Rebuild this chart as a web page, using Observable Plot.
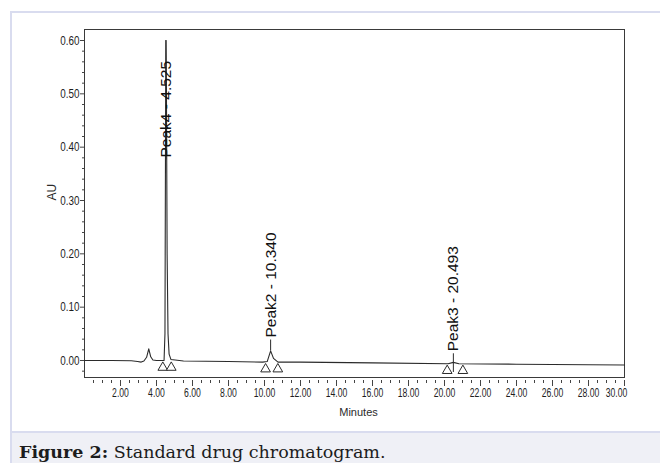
<!DOCTYPE html>
<html>
<head>
<meta charset="utf-8">
<script src="https://cdn.jsdelivr.net/npm/d3@7"></script>
<script src="https://cdn.jsdelivr.net/npm/@observablehq/plot@0.6"></script>
<style>
  html, body { margin: 0; padding: 0; background: #fff; width: 660px; height: 463px; overflow: hidden; }
  body { position: relative; }
  #box { position: absolute; left: 10px; top: 11px; width: 660px; height: 460px;
         border-left: 2px solid #d9dcef; border-top: 2px solid #d9dcef; }
  #chart { position: absolute; left: 0; top: 0; }
  #chart svg { background: transparent; }
  #caption { position: absolute; left: 12px; top: 431px; right: 0; height: 32px;
             background: #eff0f6; border-top: 2px solid #d9dcef; box-sizing: border-box;
             font-family: "DejaVu Serif", "Liberation Serif", serif; font-size: 17.5px;
             line-height: 20px; padding: 9px 0 0 7px; color: #1c1c1c; white-space: nowrap; }
  #caption b { font-weight: bold; }
</style>
</head>
<body>
<div id="box"></div>
<div id="chart"></div>
<div id="caption"><b>Figure 2:</b> Standard drug chromatogram.</div>
<script>
// --- Chromatogram trace (minutes, AU) ---
const traceTime = [0, 1.5, 2.6, 2.95, 3.15, 3.3, 3.45, 3.57, 3.68, 3.8, 4.0, 4.42, 4.47, 4.50, 4.525, 4.55, 4.59, 4.64, 4.70, 4.80, 5.5, 8.0, 9.9, 10.15, 10.34, 10.5, 10.75, 12.0, 16.0, 20.2, 20.493, 20.8, 24.0, 28.0, 30.0];
const traceAU   = [0, 0, -0.0005, -0.002, -0.003, -0.001, 0.006, 0.022, 0.007, 0.001, 0, 0, 0.05, 0.40, 0.600, 0.52, 0.20, 0.05, 0.012, 0.002, -0.001, -0.002, -0.003, -0.002, 0.018, 0.004, -0.003, -0.003, -0.0045, -0.006, -0.0035, -0.006, -0.007, -0.008, -0.0085];

// --- Named peaks ---
const peakNames   = ["Peak4 - 4.525", "Peak2 - 10.340", "Peak3 - 20.493"];
const peakTimes   = [4.525, 10.340, 20.493];
const leaderLowAU = [0.600, 0.018, -0.0225];
const labelBaseAU = [0.376, 0.0384, 0.0126];

// --- Integration markers (open triangles under the baseline) ---
const markerTimes = [4.35, 4.82, 10.06, 10.74, 20.15, 21.02];
const markerAU    = [0, 0, -0.003, -0.003, -0.006, -0.006];

// --- Axis ticks and titles ---
const yMajorTicks = [0.00, 0.10, 0.20, 0.30, 0.40, 0.50, 0.60];
const xMajorTicks = [2, 4, 6, 8, 10, 12, 14, 16, 18, 20, 22, 24, 26, 28];
const xLastTick   = [30];
const yMinorTicks = d3.range(-2, 60, 2).filter(v => v % 10 !== 0).map(v => v / 100);
const xMinorTicks = d3.range(1, 61).map(v => v / 2).filter(v => v % 2 !== 0);
const yTitle = "AU";
const xTitle = "Minutes";

const trace = traceTime.map((t, i) => ({t, au: traceAU[i]}));
const peaks = peakNames.map((name, i) => ({name, t: peakTimes[i], lo: leaderLowAU[i], hi: labelBaseAU[i]}));
const markers = markerTimes.map((t, i) => ({t, au: markerAU[i]}));

const ink = "#2b2b2b";
const sans = "'Liberation Sans', Arial, sans-serif";
const fmt = d => d.toFixed(2);

const chart = Plot.plot({
  width: 660,
  height: 431,
  marginLeft: 84,
  marginRight: 36,
  marginTop: 29,
  marginBottom: 54,
  style: {background: "transparent", color: ink, fontFamily: sans},
  x: {domain: [0, 30], label: null},
  y: {domain: [-0.03188, 0.62063], label: null},
  marks: [
    Plot.frame({stroke: "#3a3a3a", strokeWidth: 1}),
    // y axis
    Plot.axisY(yMinorTicks, {tickSize: 2, tickFormat: () => "", stroke: "#444", label: null}),
    Plot.axisY(yMajorTicks, {tickSize: 4, tickPadding: 1, tickFormat: fmt, fontSize: 13, stroke: "#444", fill: "#1e1e1e", label: null}),
    Plot.text([yTitle], {frameAnchor: "left", text: d => d, rotate: -90, dx: -32, dy: -3, fontSize: 12, fill: ink}),
    // x axis
    Plot.axisX(xMinorTicks, {tickSize: 3, dy: 3, tickFormat: () => "", stroke: "#444", label: null}),
    Plot.axisX(xMajorTicks, {tickSize: 6, dy: 3, tickPadding: 2, tickFormat: fmt, fontSize: 12, stroke: "#444", fill: "#1e1e1e", label: null}),
    Plot.axisX(xLastTick, {tickSize: 6, dy: 3, tickPadding: 2, tickFormat: fmt, fontSize: 12, stroke: "#444", fill: "#1e1e1e", label: null}),
    Plot.text([xTitle], {frameAnchor: "bottom", text: d => d, dx: 4, dy: 38, fontSize: 11, fill: ink}),
    // trace
    Plot.line(trace, {x: "t", y: "au", stroke: ink, strokeWidth: 1.1}),
    // peak leaders and labels
    Plot.ruleX(peaks, {x: "t", y1: "lo", y2: "hi", stroke: ink, strokeWidth: 1}),
    Plot.text(peaks, {x: "t", y: "hi", text: "name", rotate: -90, textAnchor: "start", lineAnchor: "middle",
      dy: -2.5, fontSize: 15.5, fill: "#111"}),
    // integration markers
    Plot.dot(markers, {x: "t", y: "au", symbol: "triangle", r: 3.6, dy: 7, fill: "white", stroke: ink, strokeWidth: 1})
  ]
});
document.getElementById("chart").appendChild(chart);

// the instrument's axis font is a condensed sans: squeeze the tick labels horizontally
const squeeze = (sel, k) => chart.querySelectorAll(sel).forEach(el => {
  const w = el.getComputedTextLength();
  if (w > 0) { el.setAttribute("textLength", (w * k).toFixed(2)); el.setAttribute("lengthAdjust", "spacingAndGlyphs"); }
});
squeeze('g[aria-label="y-axis tick label"] text', 0.76);
squeeze('g[aria-label="x-axis tick label"] text', 0.72);
// the last label sits pulled in against the right edge of the frame, as in the instrument print
const xLabels = chart.querySelectorAll('g[aria-label="x-axis tick label"]');
const lastGroup = xLabels[xLabels.length - 1];
if (lastGroup) lastGroup.setAttribute("transform", (lastGroup.getAttribute("transform") || "") + " translate(-8,0)");
</script>
</body>
</html>
